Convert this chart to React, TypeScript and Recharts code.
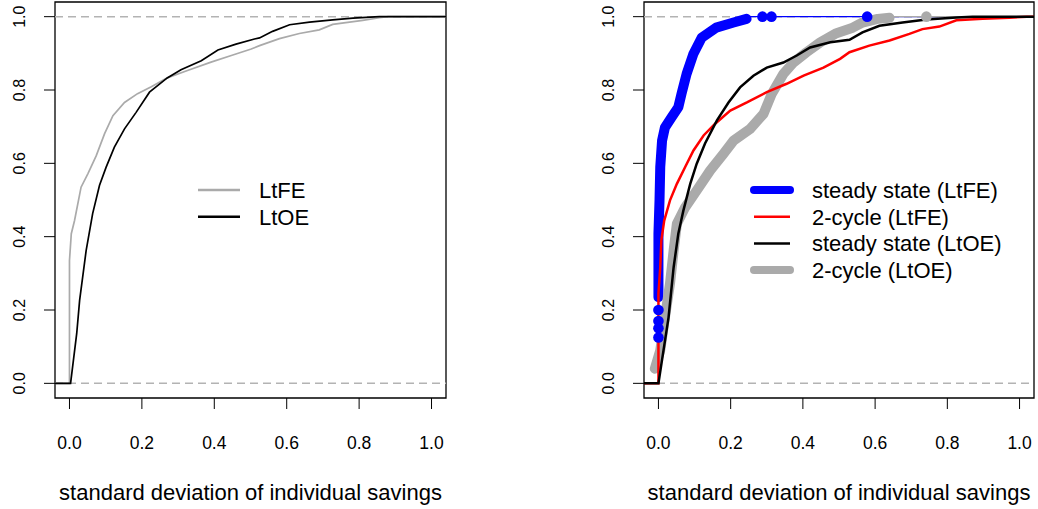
import React from 'react';
import { ComposedChart, Line, XAxis, YAxis, ReferenceLine, ReferenceArea } from 'recharts';

// ── Tick values (both panels) ─────────────────────────────
const TICKS = [0, 0.2, 0.4, 0.6, 0.8, 1.0];
const X_TITLE = 'standard deviation of individual savings';

// ── Left panel: ECDF ──────────────────────────────────────
const LTFE_X = [-0.04, 0, 0, 0.005, 0.014, 0.032, 0.051, 0.074, 0.097, 0.12, 0.152, 0.188, 0.226, 0.27, 0.326, 0.391, 0.447, 0.502, 0.525, 0.58, 0.635, 0.69, 0.727, 0.81, 0.856, 0.88, 1.04];
const LTFE_Y = [0, 0, 0.335, 0.408, 0.444, 0.535, 0.572, 0.621, 0.681, 0.73, 0.766, 0.79, 0.809, 0.833, 0.853, 0.876, 0.894, 0.912, 0.921, 0.94, 0.954, 0.964, 0.979, 0.99, 0.997, 1, 1];

const LTOE_X = [-0.04, 0.003, 0.02, 0.028, 0.046, 0.064, 0.083, 0.101, 0.124, 0.152, 0.184, 0.221, 0.27, 0.308, 0.364, 0.41, 0.46, 0.511, 0.525, 0.561, 0.608, 0.663, 0.727, 0.783, 0.856, 1.04];
const LTOE_Y = [0, 0, 0.136, 0.226, 0.362, 0.463, 0.54, 0.589, 0.644, 0.694, 0.739, 0.794, 0.833, 0.855, 0.88, 0.909, 0.925, 0.939, 0.942, 0.96, 0.978, 0.985, 0.991, 0.996, 1, 1];

// ── Right panel ───────────────────────────────────────────
// steady state (LtFE): dense part drawn as a thick band, lone points as dots
const SS_FE_X = [0, 0, 0, 0.003, 0.005, 0.01, 0.018, 0.036, 0.055, 0.064, 0.078, 0.097, 0.12, 0.16, 0.208, 0.244];
const SS_FE_Y = [0.235, 0.245, 0.408, 0.5, 0.59, 0.662, 0.698, 0.725, 0.753, 0.79, 0.844, 0.899, 0.943, 0.97, 0.984, 0.994];
const SS_FE_DOT_X = [0, 0, 0, 0, 0.288, 0.313, 0.578];
const SS_FE_DOT_Y = [0.125, 0.15, 0.17, 0.2, 1, 1, 1];
const SS_FE_TAIL_X = [0.25, 1.04];
const SS_FE_TAIL_Y = [1, 1];

const CY_FE_X = [-0.04, 0, 0, 0.005, 0.008, 0.016, 0.032, 0.051, 0.074, 0.097, 0.125, 0.157, 0.199, 0.245, 0.3, 0.355, 0.402, 0.457, 0.503, 0.529, 0.584, 0.64, 0.695, 0.731, 0.778, 0.825, 0.898, 0.972, 1.02, 1.04];
const CY_FE_Y = [0, 0, 0.245, 0.316, 0.39, 0.444, 0.499, 0.544, 0.59, 0.635, 0.676, 0.708, 0.744, 0.766, 0.794, 0.817, 0.839, 0.861, 0.885, 0.903, 0.921, 0.935, 0.953, 0.966, 0.973, 0.99, 0.994, 0.997, 1, 1];

const SS_OE_X = [-0.04, 0, 0.014, 0.028, 0.042, 0.055, 0.069, 0.088, 0.106, 0.129, 0.162, 0.194, 0.226, 0.263, 0.3, 0.346, 0.383, 0.42, 0.476, 0.529, 0.565, 0.612, 0.676, 0.742, 0.825, 0.87, 1.04];
const SS_OE_Y = [0, 0, 0.09, 0.18, 0.316, 0.408, 0.471, 0.544, 0.599, 0.654, 0.717, 0.766, 0.807, 0.839, 0.861, 0.875, 0.894, 0.916, 0.93, 0.937, 0.957, 0.975, 0.984, 0.992, 0.998, 1, 1];

const CY_OE_X = [-0.01, 0.005, 0.018, 0.032, 0.042, 0.051, 0.074, 0.106, 0.143, 0.18, 0.208, 0.254, 0.291, 0.314, 0.346, 0.374, 0.41, 0.448, 0.493, 0.538, 0.565, 0.607, 0.64];
const CY_OE_Y = [0.04, 0.09, 0.18, 0.272, 0.362, 0.435, 0.48, 0.526, 0.58, 0.626, 0.662, 0.694, 0.735, 0.79, 0.844, 0.875, 0.903, 0.93, 0.955, 0.97, 0.984, 0.994, 0.997];
const CY_OE_DOT_X = [0.742];
const CY_OE_DOT_Y = [1];
const CY_OE_TAIL_X = [0.64, 1.04];
const CY_OE_TAIL_Y = [1, 1];

const FONT = '"Liberation Sans", Arial, Helvetica, sans-serif';
const GRAY = '#aaaaaa';
const DASH_GRAY = '#b3b3b3';
const DOMAIN: [number, number] = [-0.04, 1.04];

const pts = (xs: number[], ys: number[]) => xs.map((x, i) => ({ x, y: ys[i] }));

const XTick = ({ x, y, payload }: any) => (
  <text x={x} y={y + 38} textAnchor="middle" fontSize={17.5} fontFamily={FONT} fill="#000">
    {Number(payload.value).toFixed(1)}
  </text>
);

const YTick = ({ x, y, payload }: any) => (
  <text x={x - 17} y={y} transform={`rotate(-90 ${x - 17} ${y})`} textAnchor="middle"
    fontSize={16} fontFamily={FONT} fill="#000">
    {Number(payload.value).toFixed(1)}
  </text>
);

function Panel({ marginLeft, marginRight, children }: any) {
  return (
    <ComposedChart width={519} height={509} margin={{ top: 2, right: marginRight, bottom: 0, left: 0 }}>
      <XAxis dataKey="x" type="number" domain={DOMAIN} ticks={TICKS} interval={0} allowDataOverflow
        axisLine={false} tickSize={11} tickLine={{ stroke: '#000', strokeWidth: 1 }} tick={<XTick />} height={111}
        label={{ value: X_TITLE, position: 'insideBottom', offset: 9,
          style: { fontSize: 22, fontFamily: FONT, fill: '#000' } }} />
      <YAxis dataKey="y" type="number" domain={DOMAIN} ticks={TICKS} interval={0} allowDataOverflow
        axisLine={false} tickSize={11} tickLine={{ stroke: '#000', strokeWidth: 1 }} tick={<YTick />} width={marginLeft} />
      <ReferenceLine y={0} stroke={DASH_GRAY} strokeWidth={1.5} strokeDasharray="8 5" />
      <ReferenceLine y={1} stroke={DASH_GRAY} strokeWidth={1.5} strokeDasharray="8 5" />
      {children}
      <ReferenceArea x1={DOMAIN[0]} x2={DOMAIN[1]} y1={DOMAIN[0]} y2={DOMAIN[1]} fill="none" fillOpacity={0}
        stroke="#000" strokeWidth={1.3} />
    </ComposedChart>
  );
}

const thin = (data: any[], color: string, w: number, key: string) => (
  <Line key={key} data={data} dataKey="y" type="linear" stroke={color} strokeWidth={w}
    dot={false} activeDot={false} isAnimationActive={false} />
);
const band = (data: any[], color: string, key: string) => (
  <Line key={key} data={data} dataKey="y" type="linear" stroke={color} strokeWidth={10}
    strokeLinecap="round" strokeLinejoin="round" dot={false} activeDot={false} isAnimationActive={false} />
);
const dots = (data: any[], color: string, key: string) => (
  <Line key={key} data={data} dataKey="y" type="linear" stroke="none"
    dot={{ r: 5.3, fill: color, stroke: 'none' }} activeDot={false} isAnimationActive={false} />
);

const LEFT_LEGEND = [
  { label: 'LtFE', color: GRAY, w: 2.5 },
  { label: 'LtOE', color: '#000', w: 2.5 },
];
const RIGHT_LEGEND = [
  { label: 'steady state (LtFE)', color: '#0000ff', w: 8 },
  { label: '2-cycle (LtFE)', color: '#ff0000', w: 2.5 },
  { label: 'steady state (LtOE)', color: '#000', w: 2.5 },
  { label: '2-cycle (LtOE)', color: GRAY, w: 8 },
];

function Legend({ items, x0, x1, tx, y0 }: any) {
  return (
    <g>
      {items.map((it: any, i: number) => {
        const cy = y0 + i * 26.7;
        return (
          <g key={it.label}>
            <line x1={x0} x2={x1} y1={cy} y2={cy} stroke={it.color} strokeWidth={it.w}
              strokeLinecap={it.w > 4 ? 'round' : 'butt'} />
            <text x={tx} y={cy + 8} fontSize={22} fontFamily={FONT} fill="#000">{it.label}</text>
          </g>
        );
      })}
    </g>
  );
}

export default function App() {
  return (
    <div style={{ position: 'absolute', left: 0, top: 0, width: 1038, height: 509, background: '#fff' }}>
      <div style={{ position: 'absolute', left: 0, top: 0 }}>
        <Panel marginLeft={55} marginRight={73}>
          {thin(pts(LTFE_X, LTFE_Y), GRAY, 1.7, 'ltfe')}
          {thin(pts(LTOE_X, LTOE_Y), '#000', 1.7, 'ltoe')}
        </Panel>
      </div>
      <div style={{ position: 'absolute', left: 519, top: 0 }}>
        <Panel marginLeft={125} marginRight={4}>
          {band(pts(SS_FE_X, SS_FE_Y), '#0000ff', 'ssfe')}
          {dots(pts(SS_FE_DOT_X, SS_FE_DOT_Y), '#0000ff', 'ssfedots')}
          {thin(pts(SS_FE_TAIL_X, SS_FE_TAIL_Y), '#0000ff', 1.2, 'ssfetail')}
          {band(pts(CY_OE_X, CY_OE_Y), GRAY, 'cyoe')}
          {dots(pts(CY_OE_DOT_X, CY_OE_DOT_Y), GRAY, 'cyoedots')}
          {thin(pts(CY_OE_TAIL_X, CY_OE_TAIL_Y), GRAY, 1.2, 'cyoetail')}
          {thin(pts(CY_FE_X, CY_FE_Y), '#ff0000', 2.5, 'cyfe')}
          {thin(pts(SS_OE_X, SS_OE_Y), '#000', 2.5, 'ssoe')}
        </Panel>
      </div>
      <svg width={1038} height={509} style={{ position: 'absolute', left: 0, top: 0, pointerEvents: 'none' }}>
        <Legend items={LEFT_LEGEND} x0={198} x1={240} tx={259} y0={190} />
        <Legend items={RIGHT_LEGEND} x0={754} x1={790} tx={812} y0={190} />
      </svg>
    </div>
  );
}
